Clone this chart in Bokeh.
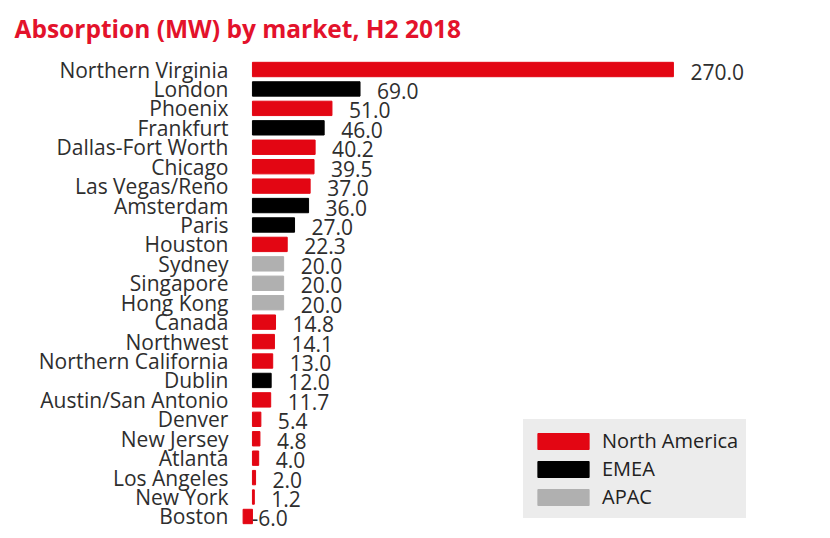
from bokeh.plotting import figure
from bokeh.models import ColumnDataSource, Range1d, FactorRange, Legend, LegendItem
from bokeh.core.properties import value
from bokeh.embed import file_html
from bokeh.resources import INLINE

markets = ["Northern Virginia", "London", "Phoenix", "Frankfurt", "Dallas-Fort Worth",
           "Chicago", "Las Vegas/Reno", "Amsterdam", "Paris", "Houston", "Sydney",
           "Singapore", "Hong Kong", "Canada", "Northwest", "Northern California",
           "Dublin", "Austin/San Antonio", "Denver", "New Jersey", "Atlanta",
           "Los Angeles", "New York", "Boston"]
absorption = [270.0, 69.0, 51.0, 46.0, 40.2, 39.5, 37.0, 36.0, 27.0, 22.3, 20.0,
              20.0, 20.0, 14.8, 14.1, 13.0, 12.0, 11.7, 5.4, 4.8, 4.0, 2.0, 1.2, -6.0]
regions = ["North America", "EMEA", "North America", "EMEA", "North America",
           "North America", "North America", "EMEA", "EMEA", "North America", "APAC",
           "APAC", "APAC", "North America", "North America", "North America",
           "EMEA", "North America", "North America", "North America", "North America",
           "North America", "North America", "North America"]
region_names = ["North America", "EMEA", "APAC"]
region_colors = {"North America": "#e30613", "EMEA": "#000000", "APAC": "#b0b0b0"}

FONT = "Open Sans"
TXT = "#2e2e2e"

src = ColumnDataSource(dict(
    market=markets,
    val=absorption,
    region=regions,
    color=[region_colors[r] for r in regions],
    label=["{:.1f}".format(v) for v in absorption],
    lx=[max(v, 0) for v in absorption],
    loff=[17 if v > 0 else -1 for v in absorption],
))

p = figure(width=814, height=536, output_backend="svg", toolbar_location=None,
           x_range=Range1d(-161.6, 360.5),
           y_range=FactorRange(factors=list(reversed(markets)),
                               range_padding=0.53, range_padding_units="absolute"),
           min_border_left=0, min_border_right=0, min_border_bottom=0, min_border_top=49)
p.title.text = "Absorption (MW) by market, H2 2018"
p.title.text_font = FONT
p.title.text_font_size = "24.5px"
p.title.text_font_style = "bold"
p.title.text_color = "#e3122b"
p.title.offset = 14
p.title.standoff = 9
p.axis.visible = False
p.grid.visible = False
p.outline_line_color = None

bars = p.hbar(y="market", left=0, right="val", height=0.74, color="color", source=src)

p.text(x=0, y="market", text="market", source=src, x_offset=-24, y_offset=0,
       text_align="right", text_baseline="alphabetic", text_font=value(FONT),
       text_font_size="21px", text_color=TXT)
p.text(x="lx", y="market", text="label", source=src, x_offset="loff", y_offset=2,
       text_align="left", text_baseline="alphabetic", text_font=value(FONT),
       text_font_size="21px", text_color=TXT)

items = [LegendItem(label=r, renderers=[bars], index=regions.index(r)) for r in region_names]
legend = Legend(items=items, location=(523, 18), orientation="vertical",
                background_fill_color="#ececec", background_fill_alpha=1.0,
                border_line_color="#ececec", border_line_alpha=0.0,
                glyph_width=64, glyph_height=20,
                label_text_font=FONT, label_text_font_size="20px", label_text_color="#222222",
                label_standoff=7, label_height=21, spacing=1, padding=8, margin=0)
p.add_layout(legend, "center")

open("out.html", "w").write(file_html(p, INLINE))
